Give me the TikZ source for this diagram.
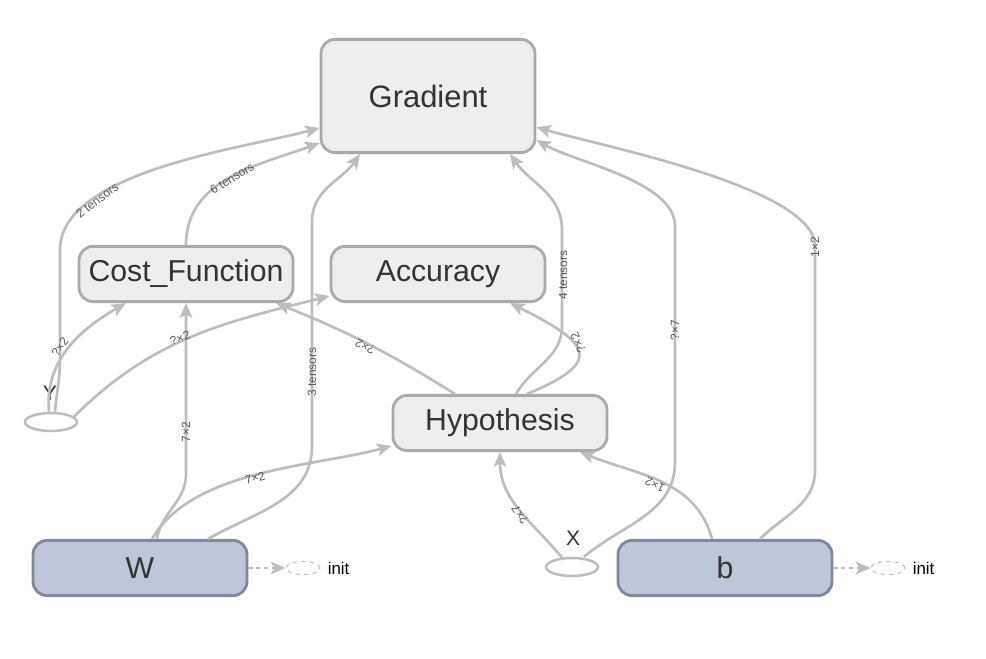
\documentclass[tikz,border=0pt]{standalone}
\usepackage{fontspec}
\setmainfont{Liberation Sans}
\usepackage{tikz}
\usetikzlibrary{shapes.geometric}
\usetikzlibrary{arrows.meta}
\usetikzlibrary{calc}

\definecolor{boxfill}{HTML}{EEEEEE}
\definecolor{boxline}{HTML}{AAAAAA}
\definecolor{varfill}{HTML}{BEC6DA}
\definecolor{varline}{HTML}{818899}
\definecolor{edgegray}{HTML}{BDBDBD}
\definecolor{labelgray}{HTML}{575757}
\definecolor{nametext}{HTML}{333333}

\begin{document}
\begin{tikzpicture}[
  opbox/.style={draw=boxline, fill=boxfill, line width=2pt, rounded corners=0.35cm,
    minimum width=5.35cm, minimum height=1.38cm, inner sep=0pt, text=nametext,
    font=\fontsize{21.5}{25}\selectfont},
  varbox/.style={opbox, draw=varline, fill=varfill},
  phold/.style={ellipse, draw=edgegray, line width=1.8pt, fill=white,
    minimum width=1.3cm, minimum height=0.45cm, inner sep=0pt},
  initnode/.style={ellipse, draw=edgegray, dashed, line width=0.7pt,
    minimum width=0.85cm, minimum height=0.33cm, inner sep=0pt},
  flow/.style={draw=edgegray, line width=1.9pt, -{Stealth[length=10.5pt,width=9pt,inset=2.5pt]}},
  initflow/.style={flow, dash pattern=on 3pt off 2.5pt},
  elabel/.style={text=labelgray, font=\fontsize{8.5}{10}\selectfont, inner sep=0.5pt},
  phname/.style={text=nametext, font=\fontsize{15}{18}\selectfont, inner sep=0pt},
  inittext/.style={anchor=west, inner sep=5pt, font=\fontsize{12}{14}\selectfont},
]

\useasboundingbox (0,0) rectangle (24.65,16.45);

\node[opbox, minimum height=2.83cm, font=\fontsize{22}{26}\selectfont] (grad) at (10.7,14.05) {Gradient};
\node[opbox] (cost) at (4.65,9.6) {Cost\_Function};
\node[opbox] (acc) at (10.95,9.6) {Accuracy};
\node[opbox] (hyp) at (12.5,5.875) {Hypothesis};
\node[varbox] (w) at (3.5,2.25) {W};
\node[varbox] (b) at (18.125,2.25) {b};

\node[phold] (y) at (1.275,5.9) {};
\node[phname] (ylab) at (1.25,6.62) {Y};
\node[phold] (x) at (14.3,2.275) {};
\node[phname] (xlab) at (14.33,3.0) {X};

\node[initnode] (winit) at (7.575,2.25) {};
\node[inittext] (wtext) at (winit.east) {init};
\node[initnode] (binit) at (22.2,2.25) {};
\node[inittext] (btext) at (binit.east) {init};

\draw[initflow] (w.east) -- (winit.west);
\draw[initflow] (b.east) -- (binit.west);

\draw[flow] ($(y.north)+(0.1,0)$) to[out=85,in=-90] (1.5,7.5) -- (1.5,10.2)
  to[out=90,in=195,looseness=0.7] ($(grad.west)+(0,-0.8)$);
\draw[flow] ($(y.north)+(-0.05,0)$) to[out=95,in=210] ($(cost.south)+(-1.5,0)$);
\draw[flow] ($(y.east)+(-0.12,0.12)$) to[out=45,in=194] ($(acc.west)+(0,-0.55)$);
\draw[flow] (cost.north) to[out=90,in=200] ($(grad.west)+(0,-1.175)$);

\draw[flow] ($(w.north)+(0.42,0)$) to[out=80,in=-90] (4.65,4.6) -- (cost.south);
\draw[flow] ($(w.north)+(0.3,0)$) to[out=60,in=195,looseness=0.8] ($(hyp.west)+(0,-0.575)$);
\draw[flow] ($(w.north)+(1.7,0)$) to[out=30,in=-90] (7.8,5.3) -- (7.8,10.9)
  to[out=90,in=235] ($(grad.south)+(-1.7,0)$);

\draw[flow] ($(hyp.north)+(-1.125,0)$) to[bend right=5] ($(cost.south)+(2.25,0)$);
\draw[flow] ($(hyp.north)+(0.675,0)$) .. controls (15.1,7.4) and (14.8,7.85) .. ($(acc.south)+(1.8,0)$);
\draw[flow] ($(hyp.north)+(0.4,0)$) to[out=60,in=-90] (14.05,8.3) -- (14.05,10.7)
  to[out=90,in=-55] ($(grad.south)+(2.05,0)$);

\draw[flow] ($(x.north)+(-0.25,-0.02)$) to[out=130,in=-90] (hyp.south);
\draw[flow] ($(x.north)+(0.3,0)$) to[out=40,in=-90] (16.875,4.9) -- (16.875,10.8)
  to[out=90,in=-30,looseness=0.7] ($(grad.east)+(0,-1.1)$);

\draw[flow] ($(b.north)+(-0.325,0)$) to[out=105,in=-22] ($(hyp.south)+(2.0,0)$);
\draw[flow] ($(b.north)+(0.875,0)$) to[out=45,in=-90] (20.375,4.7) -- (20.375,10.3)
  to[out=90,in=-17,looseness=0.5] ($(grad.east)+(0,-0.775)$);

\node[elabel, rotate=37] (l1) at (2.43,11.45) {2 tensors};
\node[elabel, rotate=55] (l2) at (1.5,7.78) {?×2};
\node[elabel, rotate=18] (l3) at (4.5,8.0) {?×2};
\node[elabel, rotate=32] (l4) at (5.8,11.99) {6 tensors};
\node[elabel, rotate=90] (l5) at (4.65,5.65) {7×2};
\node[elabel, rotate=15] (l6) at (6.375,4.5) {7×2};
\node[elabel, rotate=90] (l7) at (7.8,7.15) {3 tensors};
\node[elabel, rotate=153] (l8) at (9.125,7.78) {?×2};
\node[elabel, rotate=115] (l9) at (14.45,7.88) {?×2};
\node[elabel, rotate=90] (l10) at (14.075,9.575) {4 tensors};
\node[elabel, rotate=125] (l11) at (13.0,3.575) {?×7};
\node[elabel, rotate=90] (l12) at (16.875,8.2) {?×7};
\node[elabel, rotate=155] (l13) at (16.375,4.325) {1×2};
\node[elabel, rotate=90] (l14) at (20.375,10.275) {1×2};

\end{tikzpicture}
\end{document}
